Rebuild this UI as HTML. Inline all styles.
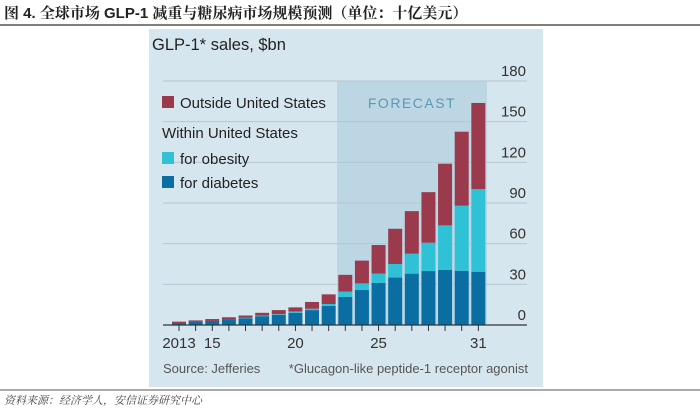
<!DOCTYPE html>
<html><head><meta charset="utf-8"><style>
body{margin:0;background:#fff;width:700px;height:415px;overflow:hidden;font-family:"Liberation Sans",sans-serif}
</style></head><body>
<svg width="700" height="415" xmlns="http://www.w3.org/2000/svg">
<text x="4" y="18" font-size="15" font-weight="bold" fill="#222" font-family="'Liberation Sans','Noto Serif CJK SC',serif">图 4. 全球市场 GLP-1 减重与糖尿病市场规模预测（单位：十亿美元）</text>
<line x1="0" y1="25" x2="700" y2="25" stroke="#555" stroke-width="1.5"/>
<rect x="149" y="29" width="394" height="358" fill="#d6e6ef"/>
<rect x="337" y="81" width="150" height="244" fill="#bcd6e4"/>
<text x="412" y="108" font-size="14" fill="#5a98b8" text-anchor="middle" letter-spacing="1.5">FORECAST</text>
<text x="152" y="50" font-size="16.5" fill="#222">GLP-1* sales, $bn</text>
<g id="grid"></g>
<g id="bars"></g>
<g id="xaxis"></g>
<rect x="162" y="96" width="12" height="12" fill="#9b3a4c"/>
<text x="180" y="108" font-size="15" fill="#222">Outside United States</text>
<text x="162" y="138" font-size="15" fill="#222">Within United States</text>
<rect x="162" y="152" width="12" height="12" fill="#2fc1d6"/>
<text x="180" y="164" font-size="15" fill="#222">for obesity</text>
<rect x="162" y="176" width="12" height="12" fill="#0a6ea3"/>
<text x="180" y="188" font-size="15" fill="#222">for diabetes</text>
<text x="163" y="373" font-size="13" fill="#555">Source: Jefferies</text>
<text x="528" y="373" font-size="13" fill="#555" text-anchor="end">*Glucagon-like peptide-1 receptor agonist</text>
<line x1="0" y1="390" x2="700" y2="390" stroke="#555" stroke-width="1"/>
<text x="4" y="404" font-size="11" font-style="italic" fill="#444" font-family="'Noto Serif CJK SC',serif">资料来源：经济学人，安信证券研究中心</text>
</svg>
<script>
const years=[2013,2014,2015,2016,2017,2018,2019,2020,2021,2022,2023,2024,2025,2026,2027,2028,2029,2030,2031];
const diabetes=[1.5,2.5,3,4,5,6.5,7.5,9,11,14,20.7,25.8,31,35,37.9,39.8,40.6,40,39.3];
const obesity=[0,0,0,0,0.3,0.5,0.5,1,1,1.5,3.9,4.9,6.9,10,14.7,20.9,32.9,48,61];
const outside=[1,0.9,1.4,1.7,1.7,2,3,3,5,7.1,12.4,16.8,21.1,26,31.4,37.3,45.5,54.6,63.5];
const yTicks=[0,30,60,90,120,150,180];
const xTickLabels={2013:"2013",2015:"15",2020:"20",2025:"25",2031:"31"};
const NS="http://www.w3.org/2000/svg";
const y=v=>325-v*(244/180);
const x=yr=>179+(yr-2013)*16.63;
const grid=document.getElementById('grid'),bars=document.getElementById('bars'),xa=document.getElementById('xaxis');
function mk(tag,attrs,parent){const e=document.createElementNS(NS,tag);for(const k in attrs)e.setAttribute(k,attrs[k]);parent.appendChild(e);return e;}
yTicks.forEach(t=>{
  if(t>0){const l=mk('line',{x1:163,x2:527,y1:y(t),y2:y(t),stroke:'#b4c7d3','stroke-width':1},grid);
  
  }
  const tx=mk('text',{x:526,y:y(t)-5,'font-size':15,fill:'#333','text-anchor':'end'},grid);
  tx.textContent=t;
  
  
});
years.forEach((yr,i)=>{
  const cx=x(yr),w=14;
  const segs=[[diabetes[i],'#0a6ea3','diabetes'],[obesity[i],'#2fc1d6','obesity'],[outside[i],'#9b3a4c','outside']];
  let base=0;
  segs.forEach(([v,c,n])=>{
    if(v<=0)return;
    const r=mk('rect',{x:cx-w/2,y:y(base+v),width:w,height:y(base)-y(base+v),fill:c},bars);
    
    
    base+=v;
  });
  const tk=mk('line',{x1:cx,x2:cx,y1:325,y2:331,stroke:'#333'},xa);
  
  
  if(xTickLabels[yr]){
    const t=mk('text',{x:cx,y:348,'font-size':15,fill:'#333','text-anchor':'middle'},xa);
    t.textContent=xTickLabels[yr];
    
    
  }
});
const ax=mk('line',{x1:163,x2:527,y1:325,y2:325,stroke:'#333','stroke-width':1.2},xa);


</script>
</body></html>
